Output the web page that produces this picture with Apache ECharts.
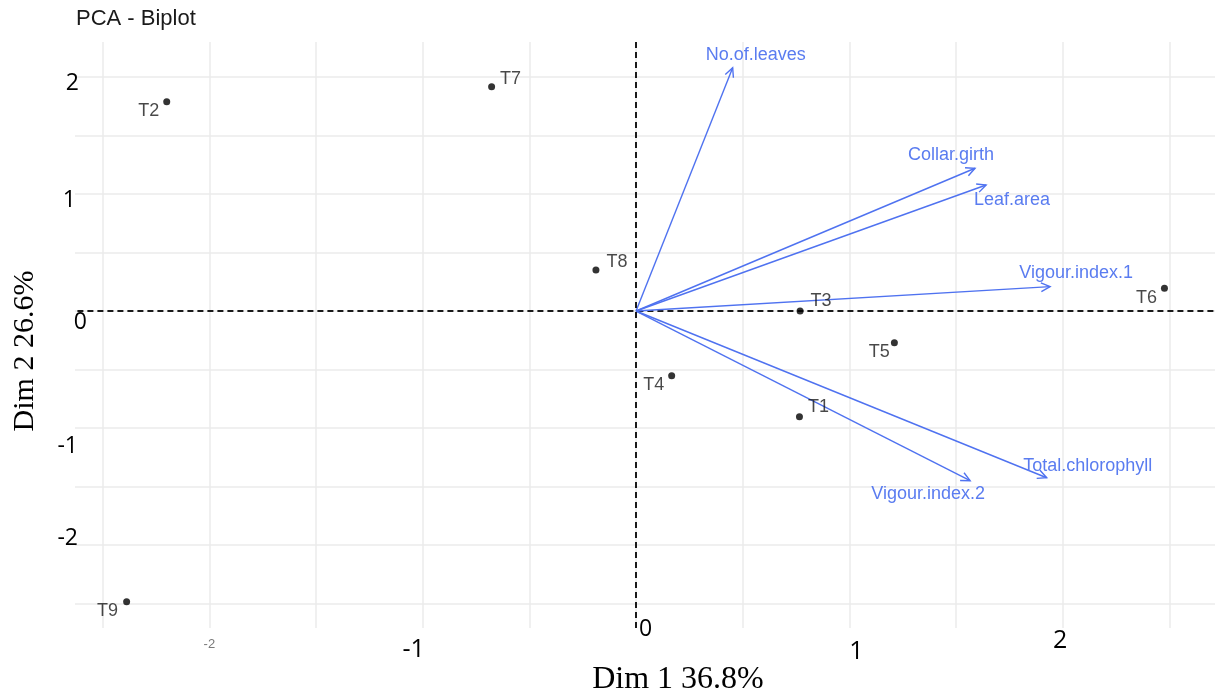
<!DOCTYPE html>
<html>
<head>
<meta charset="utf-8">
<script src="https://cdn.jsdelivr.net/npm/echarts@6/dist/echarts.min.js"></script>
<style>
  html, body { margin: 0; padding: 0; background: #fff; }
  #chart { width: 1222px; height: 700px; }
</style>
</head>
<body>
<div id="chart"></div>
<script>
// Treatment scores on the first two principal dimensions
const individuals = ['T1', 'T2', 'T3', 'T4', 'T5', 'T6', 'T7', 'T8', 'T9'];
const dim1Scores = [0.766, -2.200, 0.769, 0.167, 1.211, 2.477, -0.677, -0.188, -2.388];
const dim2Scores = [-0.903, 1.789, 0.000, -0.553, -0.271, 0.194, 1.917, 0.350, -2.485];

// Variable loadings (arrow tips)
const variables = ['No.of.leaves', 'Collar.girth', 'Leaf.area', 'Vigour.index.1', 'Total.chlorophyll', 'Vigour.index.2'];
const dim1Loadings = [0.453, 1.589, 1.641, 1.941, 1.925, 1.566];
const dim2Loadings = [2.079, 1.220, 1.077, 0.208, -1.425, -1.450];

// Tick labels
const xTickValues = [-2, -1, 0, 1, 2];
const xTickLabels = ['-2', '-1', '0', '1', '2'];
const yTickValues = [2, 1, 0, -1, -2];
const yTickLabels = ['2', '1', '0', '-1', '-2'];

const chartTitle = 'PCA - Biplot';
const xTitle = 'Dim 1 36.8%';
const yTitle = 'Dim 2 26.6%';

// Axis extents and the reach of the horizontal reference line
const xRange = [-2.63, 2.714];
const yRange = [-2.709, 2.299];
const zeroLineX = [-2.9, 2.714];

// Layout: label offsets (pixels) from each mark
const pointLabelOffset = {
  T1: [19, -10], T2: [-18, 9], T3: [21, -10], T4: [-18, 9], T5: [-15, 9],
  T6: [-18, 10], T7: [19, -8], T8: [21, -8], T9: [-19, 9]
};
const varLabelOffset = [[23, -13], [-24, -13], [26, 15], [26, -14], [41, -12], [-42, 13]];

const BLUE = '#4f72f0';
const BLUE_TEXT = '#5a7cf0';
const GRID_LINE = { show: true, showMinLine: false, showMaxLine: false, lineStyle: { color: '#ebebeb', width: 1.5 } };
const DASHED = { color: '#1a1a1a', width: 2, type: [6, 4] };

function tickIndex(values, v) {
  return values.findIndex(t => Math.abs(t - v) < 1e-6);
}

const xRich = {
  x0: { fontFamily: 'Liberation Sans', fontSize: 13, color: '#7a7a7a', lineHeight: 16, padding: [40, 0, 0, 0] },
  x1: { fontFamily: 'Open Sans', fontSize: 25, color: '#000', lineHeight: 26, padding: [42, 18, 0, 0] },
  x2: { fontFamily: 'Open Sans', fontSize: 23, color: '#000', lineHeight: 26, padding: [0, 0, 0, 19] },
  x3: { fontFamily: 'Open Sans', fontSize: 25, color: '#000', lineHeight: 26, padding: [46, 0, 0, 14] },
  x4: { fontFamily: 'Open Sans', fontSize: 25, color: '#000', lineHeight: 26, padding: [24, 5, 0, 0] }
};
const yRich = {
  y0: { fontFamily: 'Open Sans', fontSize: 23, color: '#000', lineHeight: 26, padding: [12, 8, 0, 0] },
  y1: { fontFamily: 'Open Sans', fontSize: 23, color: '#000', lineHeight: 26, padding: [12, 11, 0, 0] },
  y2: { fontFamily: 'Open Sans', fontSize: 23, color: '#000', lineHeight: 26, padding: [22, 0, 0, 0] },
  y3: { fontFamily: 'Open Sans', fontSize: 23, color: '#000', lineHeight: 26, padding: [36, 9, 0, 0] },
  y4: { fontFamily: 'Open Sans', fontSize: 23, color: '#000', lineHeight: 26, padding: [0, 9, 13, 0] }
};

const chart = echarts.init(document.getElementById('chart'), null, { renderer: 'canvas' });

const option = {
  animation: false,
  backgroundColor: '#fff',
  title: {
    text: chartTitle,
    left: 71,
    top: 3,
    textStyle: { fontFamily: 'Liberation Sans', fontSize: 22, fontWeight: 'normal', color: '#1a1a1a' }
  },
  grid: { left: 75, right: 7, top: 42, bottom: 72, outerBoundsMode: 'none', containLabel: false },
  xAxis: {
    type: 'value',
    min: xRange[0],
    max: xRange[1],
    minInterval: 0.5,
    maxInterval: 0.5,
    splitNumber: 11,
    axisLine: { show: false },
    axisTick: { show: false },
    splitLine: GRID_LINE,
    axisLabel: {
      margin: -12,
      showMinLabel: false,
      showMaxLabel: false,
      formatter: v => {
        const k = tickIndex(xTickValues, v);
        return k < 0 ? '' : '{x' + k + '|' + xTickLabels[k] + '}';
      },
      rich: xRich
    },
    name: xTitle,
    nameLocation: 'middle',
    nameGap: 34,
    nameMoveOverlap: false,
    nameTextStyle: { fontFamily: 'Liberation Serif', fontSize: 32, color: '#000', lineHeight: 36, padding: [0, 0, 0, 66] }
  },
  yAxis: {
    type: 'value',
    min: yRange[0],
    max: yRange[1],
    minInterval: 0.5,
    maxInterval: 0.5,
    splitNumber: 10,
    axisLine: { show: false },
    axisTick: { show: false },
    splitLine: GRID_LINE,
    axisLabel: {
      margin: -12,
      showMinLabel: false,
      showMaxLabel: false,
      formatter: v => {
        const k = tickIndex(yTickValues, v);
        return k < 0 ? '' : '{y' + k + '|' + yTickLabels[k] + '}';
      },
      rich: yRich
    },
    name: yTitle,
    nameLocation: 'middle',
    nameGap: 33,
    nameMoveOverlap: false,
    nameTextStyle: { fontFamily: 'Liberation Serif', fontSize: 30, color: '#000', lineHeight: 34, padding: [0, 32, 0, 0] }
  },
  series: [
    {
      // dashed reference lines through the origin
      type: 'line',
      clip: false,
      silent: true,
      symbol: 'none',
      data: [[zeroLineX[0], 0], [zeroLineX[1], 0]],
      lineStyle: DASHED,
      markLine: {
        silent: true,
        symbol: 'none',
        label: { show: false },
        lineStyle: DASHED,
        data: [{ xAxis: 0 }]
      },
      z: 1
    },
    {
      // variable arrows
      type: 'custom',
      silent: true,
      data: variables.map((n, i) => [dim1Loadings[i], dim2Loadings[i]]),
      renderItem: (params, api) => {
        const o = api.coord([0, 0]);
        const t = api.coord([api.value(0), api.value(1)]);
        const ang = Math.atan2(t[1] - o[1], t[0] - o[0]);
        const L = 10, a = 0.45;
        const p1 = [t[0] - L * Math.cos(ang - a), t[1] - L * Math.sin(ang - a)];
        const p2 = [t[0] - L * Math.cos(ang + a), t[1] - L * Math.sin(ang + a)];
        const i = params.dataIndex;
        const off = varLabelOffset[i];
        return {
          type: 'group',
          children: [
            { type: 'line', shape: { x1: o[0], y1: o[1], x2: t[0], y2: t[1] }, style: { stroke: BLUE, lineWidth: 1.4 } },
            { type: 'polyline', shape: { points: [p1, t, p2] }, style: { stroke: BLUE, lineWidth: 1.4, fill: null } },
            {
              type: 'text',
              x: t[0] + off[0],
              y: t[1] + off[1],
              style: {
                text: variables[i],
                fill: BLUE_TEXT,
                fontFamily: 'Liberation Sans',
                fontSize: 18,
                align: 'center',
                verticalAlign: 'middle'
              }
            }
          ]
        };
      },
      z: 3
    },
    {
      // treatments
      type: 'scatter',
      silent: true,
      symbol: 'circle',
      symbolSize: 7,
      itemStyle: { color: '#000' },
      data: individuals.map((n, i) => ({
        name: n,
        value: [dim1Scores[i], dim2Scores[i]],
        label: { offset: pointLabelOffset[n] }
      })),
      label: {
        show: true,
        position: 'inside',
        formatter: '{b}',
        fontFamily: 'Liberation Sans',
        fontSize: 18,
        color: '#1a1a1a'
      },
      z: 4
    }
  ]
};

chart.setOption(option);
</script>
</body>
</html>
